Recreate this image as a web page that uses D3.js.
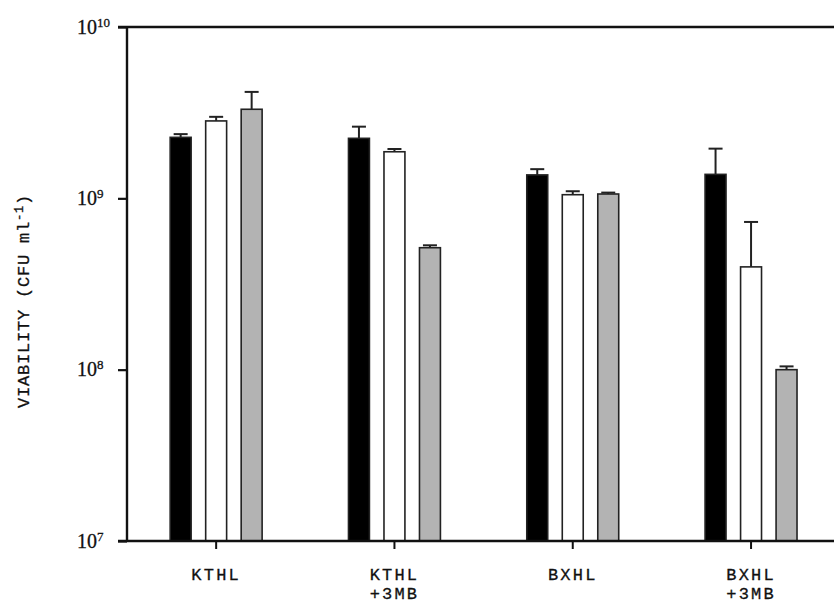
<!DOCTYPE html>
<html><head><meta charset="utf-8">
<script src="https://cdn.jsdelivr.net/npm/d3@7"></script>
<style>body{margin:0;background:#fff}svg{display:block}</style>
</head><body>
<svg id="c" width="834" height="604"></svg>
<script>
const categories = [["KTHL"], ["KTHL", "+3MB"], ["BXHL"], ["BXHL", "+3MB"]];
const categoryKeys = ["KTHL", "KTHL+3MB", "BXHL", "BXHL+3MB"];
const seriesNames = ["black", "white", "gray"];
const blackValues = [2.27e9, 2.24e9, 1.37e9, 1.38e9];
const blackErrors = [0.10e9, 0.38e9, 0.11e9, 0.57e9];
const whiteValues = [2.83e9, 1.87e9, 1.05e9, 3.98e8];
const whiteErrors = [0.16e9, 0.07e9, 0.05e9, 3.3e8];
const grayValues = [3.31e9, 5.15e8, 1.06e9, 1.00e8];
const grayErrors = [0.87e9, 0.17e8, 0.02e9, 0.045e8];
const yTickExponents = [7, 8, 9, 10];

const fills = {black: "#000", white: "#fff", gray: "#b3b3b3"};
const svg = d3.select("#c");
const mLeft = 127, mTop = 27, mBottom = 541;
const monoFont = "'Liberation Mono', 'Courier New', Courier, monospace";

const y = d3.scaleLog().domain([1e7, 1e10]).range([mBottom, mTop]);
const x = d3.scaleBand().domain(categoryKeys).range([mLeft, mLeft + 4 * 178.3]).padding(0);
const xi = d3.scaleBand().domain(seriesNames).range([-53.25, 53.25]).paddingInner(0.41).paddingOuter(0.205);

const series = [
  {name: "black", values: blackValues, errors: blackErrors},
  {name: "white", values: whiteValues, errors: whiteErrors},
  {name: "gray", values: grayValues, errors: grayErrors}
];
const data = [];
series.forEach(s => s.values.forEach((v, i) => data.push({cat: categoryKeys[i], s: s.name, v, e: s.errors[i]})));

const cx = d => x(d.cat) + x.bandwidth() / 2 + xi(d.s) + xi.bandwidth() / 2;

// error bars
const eg = svg.append("g").attr("stroke", "#222").attr("stroke-width", 2);
data.forEach(d => {
  const yt = y(d.v + d.e);
  eg.append("line").attr("x1", cx(d)).attr("x2", cx(d)).attr("y1", y(d.v)).attr("y2", yt);
  eg.append("line").attr("x1", cx(d) - 7).attr("x2", cx(d) + 7).attr("y1", yt).attr("y2", yt);
});

// bars
svg.append("g").selectAll("rect").data(data).join("rect")
  .attr("x", d => x(d.cat) + x.bandwidth() / 2 + xi(d.s))
  .attr("width", xi.bandwidth())
  .attr("y", d => y(d.v))
  .attr("height", d => mBottom - y(d.v))
  .attr("fill", d => fills[d.s])
  .attr("stroke", "#222").attr("stroke-width", 1.6);

// axes
const yAxis = d3.axisLeft(y).tickValues(yTickExponents.map(e => Math.pow(10, e))).tickSize(9).tickFormat("");
const ya = svg.append("g").attr("transform", `translate(${mLeft},0)`).call(yAxis);
ya.select(".domain").remove();
ya.selectAll(".tick line").attr("stroke", "#111").attr("stroke-width", 2.2);
ya.selectAll(".tick").each(function(v) {
  const t = d3.select(this).append("text").attr("x", -50).attr("y", 6)
    .attr("text-anchor", "start").attr("fill", "#111").attr("stroke", "#111").attr("stroke-width", 0.3)
    .style("font-family", "'Liberation Serif', 'Times New Roman', serif").style("font-size", "20px");
  t.append("tspan").text("10");
  t.append("tspan").attr("dy", -7).style("font-size", "13px").text(Math.round(Math.log10(v)));
});
svg.append("line").attr("x1", mLeft).attr("x2", mLeft).attr("y1", mTop).attr("y2", mBottom).attr("stroke", "#111").attr("stroke-width", 2.4);
svg.append("line").attr("x1", 118).attr("x2", 834).attr("y1", mTop).attr("y2", mTop).attr("stroke", "#111").attr("stroke-width", 2.4);

const xAxis = d3.axisBottom(x).tickSize(8).tickFormat("");
const xa = svg.append("g").attr("transform", `translate(0,${mBottom})`).call(xAxis);
xa.select(".domain").remove();
xa.selectAll(".tick line").attr("stroke", "#111").attr("stroke-width", 2);
xa.selectAll(".tick").each(function(k, i) {
  const t = d3.select(this).append("text").attr("text-anchor", "middle").attr("fill", "#111")
    .attr("stroke", "#111").attr("stroke-width", 0.3)
    .style("font-family", monoFont).style("font-size", "17px").style("letter-spacing", "2.2px");
  categories[i].forEach((line, j) => t.append("tspan").attr("x", 0).attr("y", 39 + j * 19.4).text(line));
});
svg.append("line").attr("x1", 118).attr("x2", 834).attr("y1", mBottom).attr("y2", mBottom).attr("stroke", "#111").attr("stroke-width", 2.4);

// y title
const ytl = svg.append("text").attr("transform", "translate(29,301) rotate(-90)").attr("text-anchor", "middle").attr("fill", "#111")
  .attr("stroke", "#111").attr("stroke-width", 0.3)
  .style("font-family", monoFont).style("font-size", "17px").style("letter-spacing", "0.8px");
ytl.append("tspan").text("VIABILITY (CFU ml");
ytl.append("tspan").attr("dy", -6).style("font-size", "12px").text("-1");
ytl.append("tspan").attr("dy", 6).text(")");
</script>
</body></html>
